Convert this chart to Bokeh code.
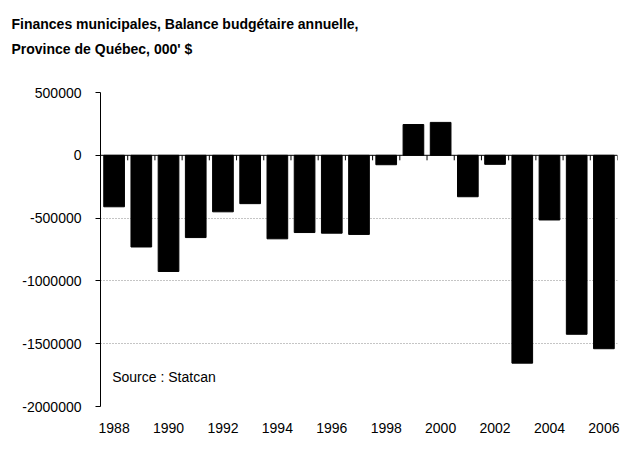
from bokeh.plotting import figure
from bokeh.models import (Range1d, FixedTicker, LinearAxis, NumeralTickFormatter,
                          Label, Title, Span, ColumnDataSource)
from bokeh.embed import file_html
from bokeh.resources import INLINE

years = [1988, 1989, 1990, 1991, 1992, 1993, 1994, 1995, 1996, 1997,
         1998, 1999, 2000, 2001, 2002, 2003, 2004, 2005, 2006]
balance = [-410000, -730000, -925000, -655000, -450000, -385000, -665000,
           -615000, -620000, -630000, -75000, 245000, 262000, -330000,
           -72000, -1655000, -515000, -1425000, -1540000]
x_tick_labels = [1988, 1990, 1992, 1994, 1996, 1998, 2000, 2002, 2004, 2006]
y_ticks = [500000, 0, -500000, -1000000, -1500000, -2000000]
grid_ticks = [-500000, -1000000, -1500000]
title_lines = ["Finances municipales, Balance budgétaire annuelle,",
               "Province de Québec, 000' $"]
source_text = "Source : Statcan"

FONT = "Liberation Sans"

src = ColumnDataSource(dict(year=years, balance=balance))

p = figure(width=623, height=466, output_backend="svg", toolbar_location=None,
           title=None,
           x_range=Range1d(years[0] - 0.5, years[-1] + 0.5),
           y_range=Range1d(y_ticks[-1], y_ticks[0]),
           min_border_left=100, min_border_right=6,
           min_border_top=92, min_border_bottom=60,
           x_axis_location=None, y_axis_location=None)
p.outline_line_color = None
p.background_fill_color = "white"
p.border_fill_color = "white"

p.vbar(x="year", top="balance", bottom=0, width=0.76, source=src,
       fill_color="black", line_color="black")

# zero line with category separator ticks hanging below it
p.add_layout(Span(location=0, dimension="width", line_color="black", line_width=1))
boundaries = [y - 0.5 for y in years] + [years[-1] + 0.5]
tick_len = 40000
p.segment(x0=boundaries, x1=boundaries, y0=[0] * len(boundaries),
          y1=[-tick_len] * len(boundaries), line_color="black", line_width=1)

# year labels at the bottom
xb = LinearAxis(ticker=FixedTicker(ticks=x_tick_labels),
                formatter=NumeralTickFormatter(format="0"))
xb.axis_line_color = None
xb.major_tick_line_color = None
xb.minor_tick_line_color = None
xb.major_label_text_font = FONT
xb.major_label_text_font_size = "14px"
xb.major_label_text_color = "black"
xb.major_label_standoff = 10
p.add_layout(xb, "below")

ya = LinearAxis(ticker=FixedTicker(ticks=y_ticks),
                formatter=NumeralTickFormatter(format="0"))
ya.axis_line_color = "black"
ya.major_tick_line_color = "black"
ya.major_tick_out = 5
ya.major_tick_in = 0
ya.minor_tick_line_color = None
ya.major_label_text_font = FONT
ya.major_label_text_font_size = "14px"
ya.major_label_text_color = "black"
ya.major_label_standoff = 14
p.add_layout(ya, "left")

p.xgrid.visible = False
p.ygrid.ticker = FixedTicker(ticks=grid_ticks)
p.ygrid.grid_line_color = "#8a8a8a"
p.ygrid.grid_line_dash = "1 2"
p.ygrid.grid_line_width = 1

# two-line title: titles stack outward from the plot, first added is nearest
def title(text, standoff):
    return Title(text=text, align="left", offset=-89, standoff=standoff,
                 text_font=FONT, text_font_size="14px", text_font_style="bold",
                 text_color="black")

p.add_layout(title(" ", 14), "above")          # blank spacer between title and plot
p.add_layout(title(title_lines[1], 7), "above")
p.add_layout(title(title_lines[0], 7), "above")

p.add_layout(Label(x=years[0] - 0.07, y=-1762000, text=source_text,
                   text_font=FONT, text_font_size="14px", text_color="black",
                   text_baseline="middle", text_align="left"))

open("out.html", "w").write(file_html(p, INLINE))
